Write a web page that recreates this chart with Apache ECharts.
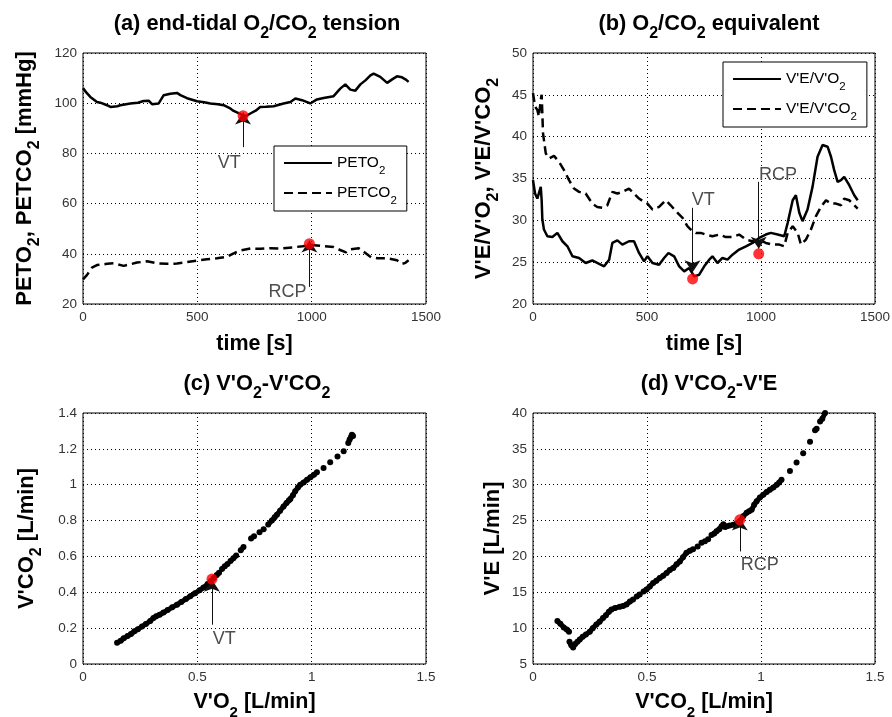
<!DOCTYPE html>
<html>
<head>
<meta charset="utf-8">
<script src="https://cdn.jsdelivr.net/npm/echarts@6/dist/echarts.min.js"></script>
<style>
  html, body { margin: 0; padding: 0; background: #fff; }
  #chart { width: 892px; height: 717px; }
</style>
</head>
<body>
<div id="chart"></div>
<script>
// ---- (a) end-tidal tensions over time: [time s, mmHg] ----
const peto2 = [[0,106],[17,104],[32,102.5],[61,100.5],[76,100.2],[105,99.2],[120,98.5],[150,98.8],[163,99.2],[207,99.9],
  [240,100.2],[265,100.9],[287,101],[302,99.6],[331,99.9],[353,103.2],[360,103.8],[382,103.8],[411,104.1],[426,103.2],
  [455,102],[499,100.8],[530,100.4],[557,99.9],[590,99.6],[615,99.2],[644,97.9],[659,96.9],[680,96],[698,95.2],
  [715,95],[732,95.9],[755,97],[775,98.5],[800,98.6],[834,98.8],[877,99.9],[907,100.5],[929,101.9],[958,101.2],
  [994,99.9],[1023,101.5],[1052,102.1],[1096,102.8],[1125,105.8],[1147,107.5],[1169,105.4],[1191,105],[1213,107.5],[1235,109.1],
  [1257,111.1],[1271,111.8],[1300,110.5],[1330,108.1],[1352,109.5],[1373,110.7],[1395,110.3],[1410,109.5],[1424,108.5]];
const petco2 = [[0,29.8],[17,31.5],[39,34.5],[61,35.5],[105,36],[134,36.2],[178,35.2],[236,36.5],[280,37],[324,36.2],
  [367,36],[411,36.1],[455,36.7],[499,37.3],[542,37.8],[586,38.2],[630,38.8],[659,40.2],[688,41.3],[732,42.1],
  [776,42],[819,42.2],[863,42.1],[921,42.6],[960,43],[994,43.5],[1038,43.2],[1096,42.7],[1125,41.5],[1150,40.6],
  [1169,41.8],[1206,42.2],[1235,40.3],[1260,38.6],[1290,38.2],[1330,38.3],[1373,37.4],[1395,36],[1410,36.4],[1424,37.4]];
const petThresholds = [[700,95],[990,44]];

// ---- (b) ventilatory equivalents over time ----
const veVo2 = [[0,34.8],[9,33.2],[19,32.6],[26,32.8],[34,34],[38,32.4],[41,30.1],[48,28.9],[63,28.1],[85,28],
  [107,28.5],[129,27.5],[151,26.9],[173,25.7],[202,25.5],[231,24.9],[260,25.2],[290,24.8],[312,24.5],[334,25.3],
  [348,27.3],[370,27.6],[392,27.1],[421,27.5],[443,27.5],[465,26.1],[487,25.1],[502,25.7],[524,24.9],[553,24.7],
  [575,25.5],[594,26.1],[619,25.7],[641,24.5],[663,23.9],[685,24.3],[707,23.3],[729,23.5],[751,24.5],[773,25.3],
  [787,25.7],[809,24.9],[831,25.5],[853,25.3],[875,25.9],[904,26.5],[934,26.9],[963,27.3],[992,27.9],[1021,28.3],
  [1043,28.5],[1073,28.3],[1102,28.1],[1117,29.7],[1139,32.4],[1153,33],[1168,30.9],[1182,29.9],[1204,31.3],[1226,34],
  [1248,37.6],[1270,39],[1292,38.8],[1307,37.6],[1321,36],[1336,34.6],[1351,34.8],[1365,35.2],[1387,34.2],[1409,33],[1424,32.4]];
const veVco2 = [[0,45.2],[9,43.6],[19,43.2],[26,42.4],[34,44.4],[38,45],[44,40.4],[56,38],[70,37.4],[92,37.7],
  [114,37],[136,36],[158,34.8],[180,33.8],[202,33.4],[231,33.2],[260,32],[282,31.6],[304,31.5],[326,31.8],
  [348,33.4],[370,33.2],[392,33.4],[421,33.8],[443,33.2],[465,32.6],[487,32.2],[502,32],[524,31.3],[553,31.6],
  [582,32.4],[604,31.8],[626,31.1],[656,30.3],[677,29.3],[692,28.9],[714,28.5],[736,28.5],[758,28.3],[787,28.1],
  [817,28.3],[846,28],[875,28],[904,28.3],[934,27.7],[963,27.5],[992,27.7],[1021,27.3],[1051,27.1],[1080,27.1],
  [1102,26.9],[1117,28.5],[1139,29.3],[1161,28.5],[1175,27.1],[1197,27.7],[1219,28.9],[1241,30.5],[1263,31.6],[1285,32.4],
  [1307,32],[1329,32],[1351,31.8],[1365,32.6],[1387,32.4],[1409,31.8],[1424,31.4]];
const eqThresholds = [[700,23],[990,26]];

// ---- (c) V'O2 vs V'CO2 breath by breath [L/min]; null = gap between breaths ----
const vo2Vco2 = [[0.149,0.118],[0.165,0.130],[0.178,0.143],[0.195,0.156],[0.210,0.168],[0.225,0.182],[0.240,0.194],
  [0.258,0.209],[0.275,0.223],[0.294,0.240],[0.308,0.256],[0.320,0.266],[0.335,0.275],[0.352,0.287],[0.370,0.301],
  [0.390,0.316],[0.411,0.331],[0.430,0.346],[0.450,0.362],[0.469,0.378],[0.490,0.395],[0.510,0.411],[0.527,0.426],
  [0.545,0.446],[0.560,0.463],[0.572,0.479],[0.585,0.496],[0.595,0.509],
  null,[0.608,0.530],[0.620,0.545],[0.632,0.558],
  null,[0.645,0.574],[0.658,0.590],[0.670,0.605],
  null,[0.690,0.635],[0.702,0.652],
  null,[0.735,0.700],[0.748,0.713],
  null,[0.772,0.735],null,[0.790,0.752],null,
  [0.810,0.778],[0.826,0.801],[0.838,0.818],[0.848,0.833],[0.862,0.855],[0.877,0.879],[0.890,0.898],[0.900,0.912],
  [0.907,0.921],[0.918,0.941],[0.928,0.963],[0.940,0.985],[0.950,1.000],[0.965,1.013],[0.980,1.028],[0.995,1.042],
  [1.010,1.056],[1.023,1.069],
  null,[1.052,1.093],null,[1.081,1.125],null,[1.113,1.158],null,[1.140,1.186],null,
  [1.160,1.232],[1.166,1.252],[1.172,1.266],[1.176,1.279],[1.181,1.272]];
const vo2Thresholds = [[0.564,0.474]];

// ---- (d) V'CO2 vs V'E breath by breath [L/min] ----
const vco2Ve = [[0.107,11.0],[0.120,10.6],[0.135,10.1],[0.148,9.8],[0.158,9.5],
  null,[0.160,8.1],[0.168,7.6],[0.176,7.3],[0.185,7.8],[0.195,8.1],[0.205,8.4],[0.218,8.8],[0.232,9.1],[0.249,9.5],
  [0.262,10.0],[0.278,10.5],[0.292,10.9],[0.307,11.4],[0.320,11.8],[0.333,12.3],[0.344,12.6],[0.360,12.8],[0.381,13.0],
  [0.395,13.1],[0.410,13.3],[0.425,13.7],[0.439,14.0],
  null,[0.455,14.4],[0.468,14.7],
  null,[0.485,15.1],[0.498,15.4],[0.512,15.8],[0.527,16.3],[0.541,16.6],[0.556,17.0],[0.571,17.3],[0.586,17.7],
  [0.600,18.1],[0.615,18.4],[0.630,18.9],[0.644,19.3],[0.658,19.9],[0.673,20.5],[0.688,20.8],[0.702,21.0],
  null,[0.722,21.4],null,[0.739,21.9],null,[0.754,22.1],null,[0.768,22.4],null,
  [0.783,23.0],[0.795,23.2],[0.805,23.5],[0.817,23.8],[0.827,24.2],[0.835,24.5],[0.842,24.1],[0.849,24.2],[0.862,24.3],
  [0.878,24.4],[0.893,24.6],[0.907,24.9],[0.922,25.6],[0.937,26.1],[0.948,26.3],[0.959,26.5],[0.970,27.2],[0.981,27.7],
  [0.995,28.2],[1.010,28.6],[1.025,29.0],[1.039,29.3],[1.054,29.6],[1.069,30.0],[1.080,30.3],[1.090,30.7],
  null,[1.127,31.9],null,[1.156,33.1],null,[1.185,34.4],null,[1.215,36.0],null,
  [1.237,37.6],[1.244,37.8],null,[1.259,38.8],[1.269,39.2],[1.281,40.0]];
const veThresholds = [[0.907,25.1]];

// tick ranges per panel: [min, max, step]
const timeTicks = [0, 1500, 500];
const petTicks = [20, 120, 20];
const eqTicks = [20, 50, 5];
const flowTicks = [0, 1.5, 0.5];
const vco2Ticks = [0, 1.4, 0.2];
const veTicks = [5, 40, 5];

// ---------------------------------------------------------------
const FONT = '"Liberation Sans", Arial, Helvetica, sans-serif';

// subscript style: smaller digit pushed below the baseline by top padding
function subRich(size, pad, weight) {
  return { s: { fontSize: size, fontWeight: weight, fontFamily: FONT, color: '#000',
                lineHeight: size, padding: [pad, 0, 0, 0] } };
}

const grids = [
  { left: 83, top: 53, width: 343, height: 251 },
  { left: 533, top: 53, width: 342, height: 251 },
  { left: 83, top: 413, width: 343, height: 251 },
  { left: 533, top: 413, width: 342, height: 251 }
].map(g => Object.assign({ show: true, borderColor: '#000', borderWidth: 1, backgroundColor: '#fff',
  containLabel: false, outerBoundsMode: 'none' }, g));

function axis(gridIndex, ticks, isX, name, nameGap) {
  return {
    type: 'value', gridIndex,
    min: ticks[0], max: ticks[1], interval: ticks[2],
    name, nameLocation: 'middle', nameGap, nameRotate: isX ? 0 : 90,
    nameTextStyle: isX
      ? { fontSize: 21.5, fontWeight: 'bold', fontFamily: FONT, color: '#000', lineHeight: 24, rich: subRich(15, 20, 'bold') }
      : { fontSize: 22, fontWeight: 'bold', fontFamily: FONT, color: '#000', lineHeight: 24, rich: subRich(16, 20, 'bold') },
    axisLine: { show: false },
    axisTick: { show: false },
    axisLabel: { fontSize: 13.5, fontFamily: FONT, color: '#333', margin: 6, formatter: v => String(v) },
    splitLine: { show: true, lineStyle: { color: '#000', width: 1, type: [1, 3] } }
  };
}

const xAxes = [
  axis(0, timeTicks, true, 'time [s]', 28),
  axis(1, timeTicks, true, 'time [s]', 28),
  axis(2, flowTicks, true, "V'O{s|2} [L/min]", 23),
  axis(3, flowTicks, true, "V'CO{s|2} [L/min]", 23)
];
const yAxes = [
  axis(0, petTicks, false, 'PETO{s|2}, PETCO{s|2} [mmHg]', 46),
  axis(1, eqTicks, false, "V'E/V'O{s|2}, V'E/V'CO{s|2}", 37),
  axis(2, vco2Ticks, false, "V'CO{s|2} [L/min]", 44),
  axis(3, veTicks, false, "V'E [L/min]", 28.5)
];

function title(text, x, y) {
  return { text, left: x, top: y, textAlign: 'center',
    textStyle: { fontSize: 21.8, fontWeight: 'bold', fontFamily: FONT, color: '#000', lineHeight: 24,
                 rich: subRich(16, 20, 'bold') } };
}

const legendLabels = {
  'PETO2': 'PETO{s|2}', 'PETCO2': 'PETCO{s|2}',
  "V'E/V'O2": "V'E/V'O{s|2}", "V'E/V'CO2": "V'E/V'CO{s|2}"
};
function legend(names, x, y) {
  return {
    data: names, left: x, top: y, orient: 'vertical', selectedMode: false,
    itemWidth: 48, itemHeight: 14, itemGap: 2,
    padding: [3, 10, 4, 9],
    borderColor: '#000', borderWidth: 1, backgroundColor: '#fff',
    itemStyle: { opacity: 0 },
    formatter: n => legendLabels[n],
    textStyle: { fontSize: 15.5, fontFamily: FONT, color: '#000', lineHeight: 18, rich: subRich(11.5, 16, 'normal') }
  };
}

function trace(name, idx, data, dashed) {
  return {
    type: 'line', name, xAxisIndex: idx, yAxisIndex: idx, data,
    symbol: 'none', z: 3, silent: true,
    lineStyle: { color: '#000', width: 2.5, type: dashed ? [9, 5] : 'solid' },
    itemStyle: { color: '#000' }
  };
}

function breaths(idx, data) {
  return {
    type: 'line', xAxisIndex: idx, yAxisIndex: idx, data,
    symbol: 'circle', symbolSize: 6, showSymbol: true, showAllSymbol: true, connectNulls: false,
    z: 3, silent: true,
    lineStyle: { color: '#000', width: 5 },
    itemStyle: { color: '#000' }
  };
}

function thresholds(idx, data, arrows, labels) {
  return {
    type: 'scatter', xAxisIndex: idx, yAxisIndex: idx, data,
    symbolSize: 11, z: 5, silent: true,
    itemStyle: { color: '#ff0000' },
    markLine: {
      silent: true, symbol: ['none', 'arrow'], symbolSize: 12,
      label: { show: false },
      lineStyle: { color: '#111', width: 1, type: 'solid' },
      data: arrows.map(a => [{ coord: a[0] }, { coord: a[1] }])
    },
    markPoint: {
      silent: true, symbol: 'circle', symbolSize: 0,
      label: { show: true, position: 'inside', formatter: '{b}', fontSize: 18, fontFamily: FONT, color: '#4d4d4d' },
      data: labels.map(l => ({ name: l[0], coord: l[1] }))
    }
  };
}

const option = {
  animation: false,
  backgroundColor: '#fff',
  title: [
    title('(a) end-tidal O{s|2}/CO{s|2} tension', 252, 7),
    title('(b) O{s|2}/CO{s|2} equivalent', 704, 7),
    title("(c) V'O{s|2}-V'CO{s|2}", 252, 367),
    title("(d) V'CO{s|2}-V'E", 704, 367)
  ],
  legend: [
    legend(['PETO2', 'PETCO2'], 274, 146),
    legend(["V'E/V'O2", "V'E/V'CO2"], 723, 62)
  ],
  grid: grids,
  xAxis: xAxes,
  yAxis: yAxes,
  series: [
    trace('PETO2', 0, peto2, false),
    trace('PETCO2', 0, petco2, true),
    thresholds(0, petThresholds,
      [[[700, 82.5], [700, 96.3]], [[990, 26.8], [990, 45.3]]],
      [['VT', [640, 76.3]], ['RCP', [894, 24.9]]]),
    trace("V'E/V'O2", 1, veVo2, false),
    trace("V'E/V'CO2", 1, veVco2, true),
    thresholds(1, eqThresholds,
      [[[700, 31.5], [700, 23.8]], [[990, 34.6], [990, 26.6]]],
      [['VT', [747, 32.4]], ['RCP', [1075, 35.4]]]),
    breaths(2, vo2Vco2),
    thresholds(2, vo2Thresholds,
      [[[0.564, 0.219], [0.564, 0.47]]],
      [['VT', [0.618, 0.141]]]),
    breaths(3, vco2Ve),
    thresholds(3, veThresholds,
      [[[0.907, 20.7], [0.907, 25.3]]],
      [['RCP', [0.994, 18.85]]])
  ]
};

const chart = echarts.init(document.getElementById('chart'), null, { renderer: 'canvas' });
chart.setOption(option);
</script>
</body>
</html>
